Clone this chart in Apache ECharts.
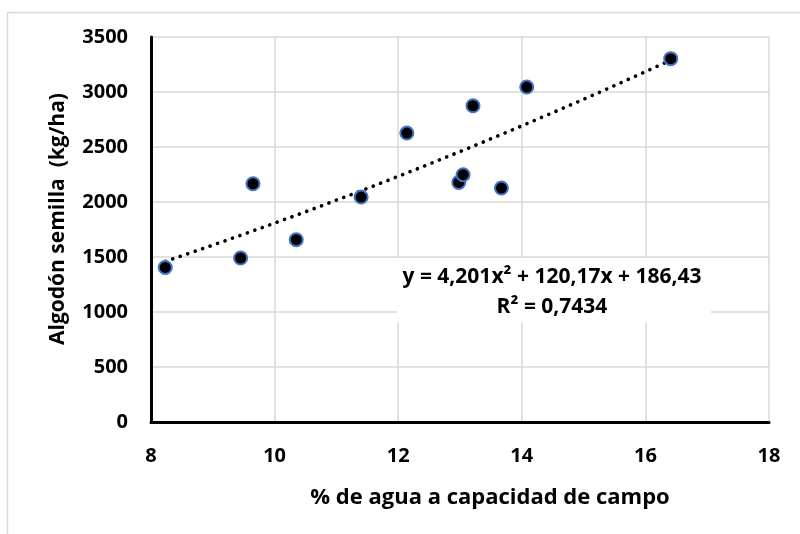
<!DOCTYPE html>
<html><head><meta charset="utf-8">
<script src="https://cdn.jsdelivr.net/npm/echarts@6/dist/echarts.min.js"></script>
<style>html,body{margin:0;padding:0;background:#fff}#c{width:800px;height:534px}</style>
</head><body><div id="c"></div>
<script>
const waterPct = [8.23, 9.45, 9.65, 10.35, 11.40, 12.14, 12.98, 13.05, 13.21, 13.67, 14.08, 16.41];
const cottonYield = [1405, 1491, 2166, 1657, 2045, 2627, 2178, 2248, 2875, 2127, 3045, 3303];
const trendCoef = [4.201, 120.17, 186.43]; // a, b, c from the chart's equation
const xTicks = [8, 10, 12, 14, 16, 18];
const yTicks = [0, 500, 1000, 1500, 2000, 2500, 3000, 3500];
const eqText = 'y = 4,201x² + 120,17x + 186,43';
const r2Text = 'R² = 0,7434';

const pts = waterPct.map((x, i) => [x, cottonYield[i]]);
const xmin = Math.min(...waterPct), xmax = Math.max(...waterPct);
const trend = [];
for (let k = 0; k <= 60; k++) {
  const x = xmin + (xmax - xmin) * k / 60;
  trend.push([x, trendCoef[0] * x * x + trendCoef[1] * x + trendCoef[2]]);
}
const FONT = '"Open Sans", sans-serif';
const chart = echarts.init(document.getElementById('c'), null, {renderer: 'canvas'});
chart.setOption({
  animation: false,
  backgroundColor: '#fff',
  grid: {left: 151, right: 31, top: 37, bottom: 112, containLabel: false},
  xAxis: {
    type: 'value', min: xTicks[0], max: xTicks[xTicks.length - 1], interval: 2,
    axisLine: {show: true, onZero: false, lineStyle: {color: '#000', width: 3}},
    axisTick: {show: false},
    axisLabel: {margin: 24, color: '#000', fontSize: 20, fontWeight: 'bold', fontFamily: FONT,
      formatter: v => String(v)},
    splitLine: {show: true, lineStyle: {color: '#d9d9d9', width: 1.5}}
  },
  yAxis: {
    type: 'value', min: yTicks[0], max: yTicks[yTicks.length - 1], interval: 500,
    axisLine: {show: true, onZero: false, lineStyle: {color: '#000', width: 3}},
    axisTick: {show: false},
    axisLabel: {margin: 23, color: '#000', fontSize: 20, fontWeight: 'bold', fontFamily: FONT,
      formatter: v => String(v)},
    splitLine: {show: true, lineStyle: {color: '#d9d9d9', width: 1.5}}
  },
  series: [
    {
      type: 'line', data: trend, showSymbol: false, symbol: 'none', z: 3,
      lineStyle: {color: '#000', width: 3.6, type: [0.1, 7.8], cap: 'round'}
    },
    {
      type: 'scatter', data: pts, symbol: 'circle', symbolSize: 13, z: 4,
      itemStyle: {color: '#000', opacity: 1, borderColor: '#4472C4', borderWidth: 2}
    }
  ],
  graphic: [
    {type: 'rect', left: 5, top: 10, shape: {width: 820, height: 560}, silent: true,
     style: {fill: 'none', stroke: '#d9d9d9', lineWidth: 1.5}, z: -1},
    {type: 'rect', left: 397, top: 258, shape: {width: 314, height: 65},
     style: {fill: '#fff'}, z: 5},
    {type: 'text', x: 552, y: 277, z: 6,
     style: {text: eqText, fill: '#000', font: 'bold 21px ' + FONT, align: 'center', verticalAlign: 'middle'}},
    {type: 'text', x: 552, y: 307, z: 6,
     style: {text: r2Text, fill: '#000', font: 'bold 21px ' + FONT, align: 'center', verticalAlign: 'middle'}},
    {type: 'text', x: 490, y: 498, z: 6,
     style: {text: '% de agua a capacidad de campo', fill: '#000', font: 'bold 22px ' + FONT, align: 'center', verticalAlign: 'middle'}},
    {type: 'text', x: 58, y: 219, rotation: Math.PI / 2, z: 6,
     style: {text: 'Algodón semilla  (kg/ha)', fill: '#000', font: 'bold 21px ' + FONT, align: 'center', verticalAlign: 'middle'}}
  ]
});
</script></body></html>
